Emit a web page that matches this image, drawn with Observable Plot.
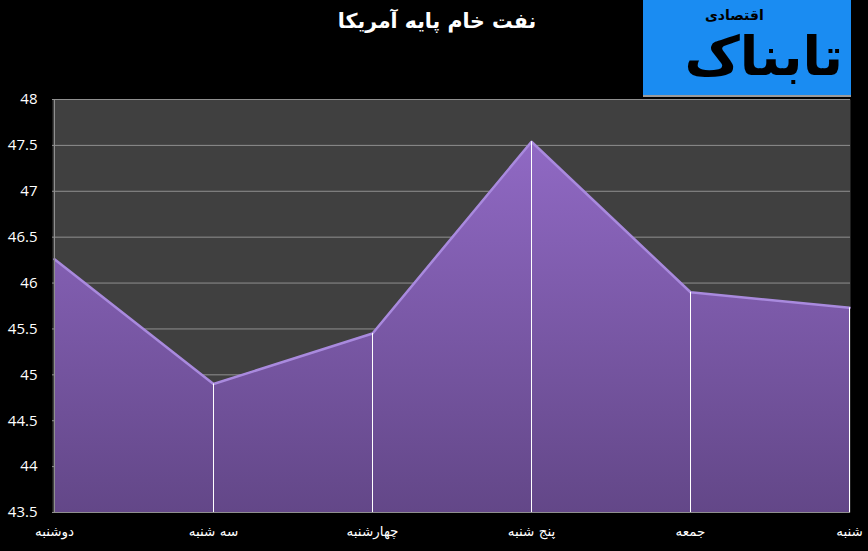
<!DOCTYPE html>
<html><head><meta charset="utf-8">
<script src="https://cdn.jsdelivr.net/npm/d3@7"></script>
<script src="https://cdn.jsdelivr.net/npm/@observablehq/plot@0.6"></script>
<style>
html,body{margin:0;padding:0;background:#000;}
#wrap{position:relative;width:868px;height:551px;background:#000;overflow:hidden;}
#chart{position:absolute;left:0;top:0;}
#title{position:absolute;left:0;width:874px;top:9px;text-align:center;color:#fff;font:bold 20.5px "DejaVu Sans";direction:rtl;}
#logo{position:absolute;left:643px;top:0;width:208px;height:95px;background:#1a8cf2;border-bottom:2px solid #9a9a9a;overflow:hidden;}
#logo .big{position:absolute;right:8px;top:30px;font:bold 54px/1 "DejaVu Sans";color:#000;direction:rtl;white-space:nowrap;}
#logo .small{position:absolute;left:62px;top:8px;font:bold 14px/1 "DejaVu Sans";color:#000;direction:rtl;white-space:nowrap;}
</style></head><body>
<div id="wrap">
  <div id="chart"></div>
  <div id="title">نفت خام پایه آمریکا</div>
  <div id="logo"><span class="small">اقتصادی</span><span class="big">تابناک</span></div>
</div>
<script>
const days = ["دوشنبه","سه شنبه","چهارشنبه","پنج شنبه","جمعه","شنبه"];
const prices = [46.26, 44.9, 45.45, 47.54, 45.9, 45.73];
const yTicks = [43.5, 44, 44.5, 45, 45.5, 46, 46.5, 47, 47.5, 48];

const data = days.map((d, i) => ({day: d, price: prices[i]}));

const chart = Plot.plot({
  width: 868, height: 551,
  marginLeft: 52, marginRight: 18, marginTop: 99, marginBottom: 39,
  style: {background: "transparent", color: "#fff", fontFamily: "DejaVu Sans"},
  x: {type: "point", domain: days, padding: 0, label: null},
  y: {domain: [43.5, 48], label: null},
  marks: [
    Plot.frame({fill: "#404040", stroke: null}),
    Plot.gridY(yTicks, {stroke: "#8f8f8f", strokeOpacity: 1}),
    Plot.areaY(data, {x: "day", y1: 43.5, y2: "price", fill: "url(#oilGrad)"}),
    Plot.line(data, {x: "day", y: "price", stroke: "#a98ade", strokeWidth: 2.5}),
    Plot.ruleX(data.slice(1), {x: "day", y1: 43.5, y2: "price", stroke: "#fff", strokeWidth: 1}),
    Plot.ruleY([43.5], {stroke: "#8f8f8f"}),
    Plot.ruleX([days[0]], {stroke: "#8f8f8f"}),
    Plot.axisY(yTicks, {tickSize: 0, tickPadding: 15, fontSize: 15, fill: "#fff", fontFamily: "Open Sans", tickFormat: d => String(d), label: null}),
    Plot.axisX({tickSize: 0, tickPadding: 14, fontSize: 13.5, fill: "#fff", label: null})
  ]
});

const svg = d3.select(chart);
const grad = svg.insert("defs", ":first-child")
  .append("linearGradient")
  .attr("id", "oilGrad")
  .attr("x1", 0).attr("y1", 0).attr("x2", 0).attr("y2", 1);
grad.append("stop").attr("offset", 0).attr("stop-color", "#9069c4");
grad.append("stop").attr("offset", 1).attr("stop-color", "#634788");

document.getElementById("chart").appendChild(chart);
</script>
</body></html>
